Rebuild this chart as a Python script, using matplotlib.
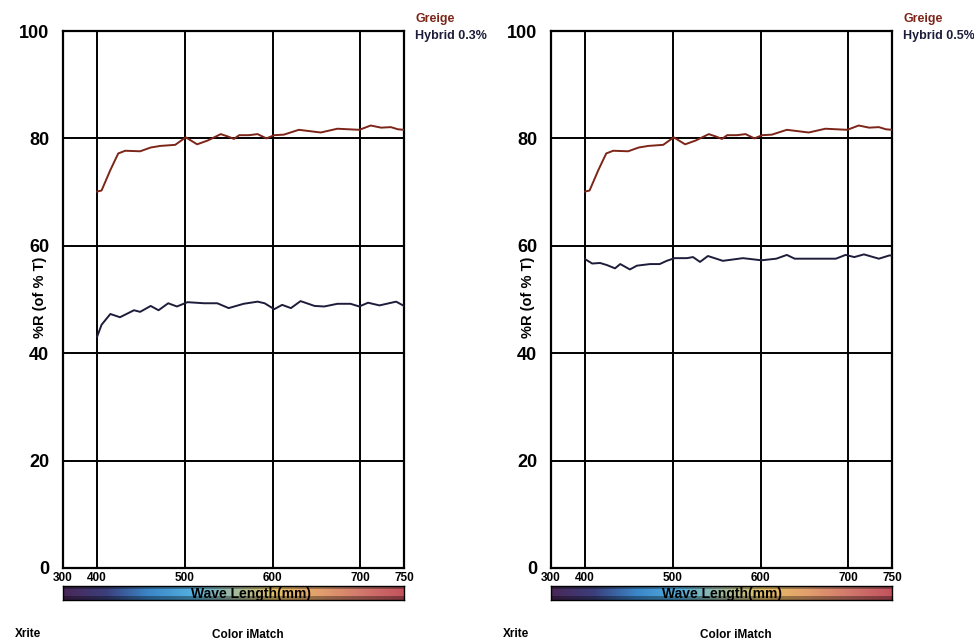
"""Reflectance curves: greige vs hybrid finishes (Color iMatch export)."""

import matplotlib
matplotlib.use("Agg")
import matplotlib.pyplot as plt
import numpy as np
from matplotlib.colors import LinearSegmentedColormap

plt.rcParams["font.family"] = ["Liberation Sans", "DejaVu Sans"]
plt.rcParams["font.weight"] = "bold"

# --- data ----------------------------------------------------------------
greige_wl = [400, 405, 415, 424, 432, 449, 461, 472, 489, 501, 506, 514, 526,
             541, 550, 556, 562, 573, 583, 593, 602, 613, 630, 655, 674, 699,
             712, 724, 735, 743, 750]
greige_r = [70.1, 70.3, 74.1, 77.2, 77.7, 77.6, 78.3, 78.6, 78.8, 80.2, 79.7,
            78.9, 79.6, 80.8, 80.3, 79.9, 80.6, 80.6, 80.8, 80.0, 80.6, 80.7,
            81.6, 81.1, 81.8, 81.6, 82.4, 82.0, 82.1, 81.7, 81.6]

hybrid03_wl = [400, 405, 415, 426, 442, 449, 461, 470, 481, 491, 503, 522, 537,
               550, 567, 583, 591, 602, 611, 621, 632, 648, 659, 674, 689, 699,
               709, 722, 741, 750]
hybrid03_r = [43.1, 45.3, 47.3, 46.7, 48.0, 47.7, 48.8, 48.0, 49.3, 48.7, 49.5,
              49.3, 49.3, 48.4, 49.2, 49.6, 49.3, 48.2, 49.0, 48.4, 49.7, 48.8,
              48.7, 49.2, 49.2, 48.7, 49.4, 48.9, 49.6, 48.8]

hybrid05_wl = [400, 408, 417, 425, 434, 440, 451, 459, 474, 485, 493, 502, 516,
               523, 531, 540, 557, 580, 601, 618, 630, 639, 663, 686, 697, 707,
               718, 735, 747, 750]
hybrid05_r = [57.5, 56.7, 56.8, 56.4, 55.8, 56.6, 55.6, 56.3, 56.6, 56.6, 57.2,
              57.7, 57.7, 57.9, 57.0, 58.1, 57.2, 57.7, 57.3, 57.6, 58.3, 57.6,
              57.6, 57.6, 58.3, 57.9, 58.4, 57.6, 58.2, 58.2]

x_ticks = [361, 400, 500, 600, 700, 750]
x_tick_labels = ["300", "400", "500", "600", "700", "750"]
y_ticks = [0, 20, 40, 60, 80, 100]

GREIGE_COLOR = "#7c2518"
HYBRID_COLOR = "#1d1d3b"
SPECTRUM = ["#4a2758", "#3b3f7c", "#3a86c8", "#52aede", "#9fbaa0",
            "#e6bf62", "#e2a06c", "#d2786c", "#c2525e"]

W, H = 974, 642


def fx(px):
    return px / W


def fy(py):
    return 1 - py / H


def draw_panel(fig, left_px, hybrid_wl, hybrid_r, hybrid_label, label_x_px):
    ax = fig.add_axes([fx(left_px), fy(568), 341 / W, 537 / H])
    ax.plot(greige_wl, greige_r, color=GREIGE_COLOR, lw=1.4, zorder=3)
    ax.plot(hybrid_wl, hybrid_r, color=HYBRID_COLOR, lw=1.4, zorder=3)

    ax.set_xlim(361, 750)
    ax.set_ylim(0, 100)
    ax.set_xticks(x_ticks)
    ax.set_xticklabels(x_tick_labels, fontsize=8.5, fontweight="bold")
    ax.set_yticks(y_ticks)
    ax.set_yticklabels([str(v) for v in y_ticks], fontsize=13, fontweight="bold")
    ax.tick_params(length=0, pad=3)
    ax.tick_params(axis="y", pad=10)
    for v in x_ticks[1:-1]:
        ax.axvline(v, color="black", lw=1.4, zorder=1)
    for v in y_ticks[1:-1]:
        ax.axhline(v, color="black", lw=1.4, zorder=1)
    for s in ax.spines.values():
        s.set_linewidth(1.6)

    fig.text(fx(left_px - 23), fy(297), "%R (of % T)", rotation=90,
             fontsize=10.5, fontweight="bold", ha="center", va="center")

    fig.text(fx(left_px + 352), fy(19), "Greige", color=GREIGE_COLOR,
             fontsize=9, fontweight="bold", va="center")
    fig.text(fx(left_px + 352), fy(36), hybrid_label, color=HYBRID_COLOR,
             fontsize=9, fontweight="bold", va="center")

    # spectrum strip under the axis
    cax = fig.add_axes([fx(left_px), fy(600), 341 / W, 14 / H])
    cmap = LinearSegmentedColormap.from_list("spectrum", SPECTRUM)
    grad = np.linspace(0, 1, 256)[None, :]
    cax.imshow(grad, aspect="auto", cmap=cmap, extent=[0, 1, 0, 1])
    shade = np.array([[0.3], [0.0], [0.0], [0.35]])
    cax.imshow(np.zeros_like(shade), aspect="auto", cmap="gray",
               alpha=shade, extent=[0, 1, 0, 1])
    cax.set_xticks([])
    cax.set_yticks([])
    for s in cax.spines.values():
        s.set_linewidth(1.0)
    cax.text(label_x_px, 0.45, "Wave Length(mm)", transform=cax.transAxes,
             ha="center", va="center", fontsize=10, fontweight="bold")

    fig.text(fx(left_px - 48), fy(634), "Xrite", fontsize=8.5,
             fontweight="bold", va="center")
    fig.text(fx(left_px + 185), fy(635), "Color iMatch", fontsize=8.5,
             fontweight="bold", va="center", ha="center")


def main():
    fig = plt.figure(figsize=(W / 100, H / 100), dpi=100)
    draw_panel(fig, 63, hybrid03_wl, hybrid03_r, "Hybrid 0.3%", 0.55)
    draw_panel(fig, 551, hybrid05_wl, hybrid05_r, "Hybrid 0.5%", 0.5)
    fig.savefig("out.png", dpi=100)
    plt.close(fig)


if __name__ == "__main__":
    main()
